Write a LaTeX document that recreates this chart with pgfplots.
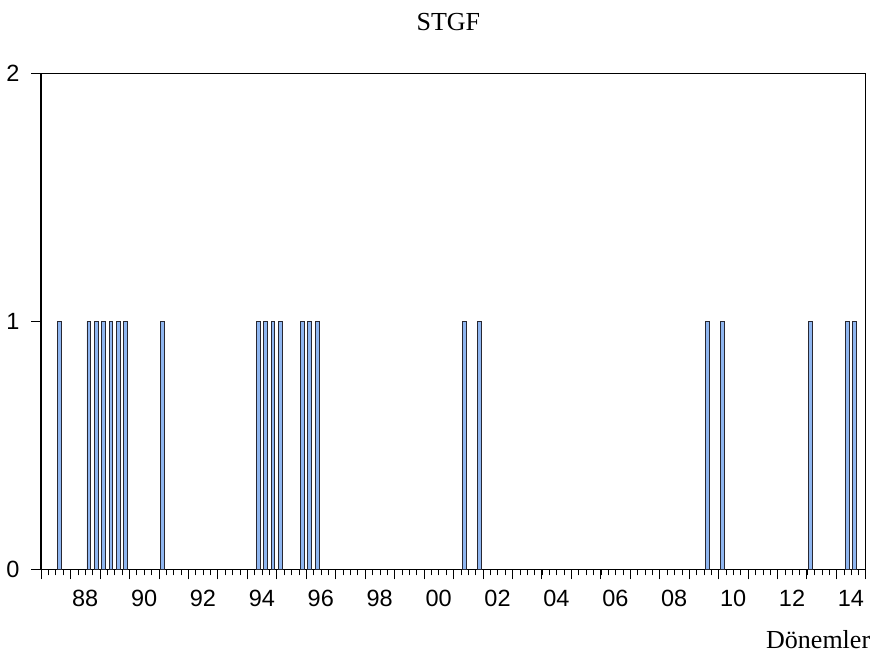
\documentclass[border=0pt]{standalone}
\usepackage{pgfplots}
\pgfplotsset{compat=1.18}
\usepackage{fontspec}
\setmainfont{Liberation Serif}
\setsansfont{Liberation Sans}
\definecolor{barfill}{RGB}{143,182,240}
\definecolor{baredge}{RGB}{40,40,50}
\begin{document}
\begin{tikzpicture}
\path[use as bounding box] (-41pt,-87.7pt) rectangle (838pt,569.3pt);
\begin{axis}[
  at={(0,0)}, anchor=south west,
  scale only axis, width=824.7pt, height=496pt,
  xmin=1987, xmax=2015, ymin=0, ymax=2,
  axis line style={black, line width=1.1pt},
  tick align=outside,
  xtick pos=bottom, ytick pos=left,
  /pgf/number format/assume math mode=true,
  ticklabel style={font=\sffamily\fontsize{23.5}{28}\selectfont, black},
  ytick={0,1,2}, yticklabels={0,1,2},
  ytick style={black, line width=0.6pt},
  major tick length=10pt,
  yticklabel style={xshift=-8pt},
  xtick={1988.5,1990.5,1992.5,1994.5,1996.5,1998.5,2000.5,2002.5,2004.5,2006.5,2008.5,2010.5,2012.5,2014.5},
  xticklabels={88,90,92,94,96,98,00,02,04,06,08,10,12,14},
  xtick style={draw=none},
  xticklabel style={yshift=-7pt},
  extra x ticks={1987,1988,1989,1990,1991,1992,1993,1994,1995,1996,1997,1998,1999,2000,2001,2002,2003,2004,2005,2006,2007,2008,2009,2010,2011,2012,2013,2014,2015},
  extra x tick labels={},
  extra x tick style={xtick style={draw=black, line width=0.6pt}, major tick length=10pt},
  minor xtick={1987,1987.25,...,2015},
  minor tick length=6pt,
  minor x tick style={draw=black, line width=0.6pt},
  title={STGF},
  title style={font=\fontsize{26}{30}\selectfont, at={(rel axis cs:0.5,1)}, anchor=base, yshift=37pt, xshift=-5pt},
  xlabel={Dönemler},
  xlabel style={font=\fontsize{26}{30}\selectfont, at={(rel axis cs:1,0)}, anchor=base east, yshift=-79pt, xshift=8pt},
  ybar, bar width=3.8pt,
]
\addplot[fill=barfill, draw=baredge, line width=0.9pt] table {
x y
1987.625 1
1988.625 1
1988.875 1
1989.125 1
1989.375 1
1989.625 1
1989.875 1
1991.125 1
1994.375 1
1994.625 1
1994.875 1
1995.125 1
1995.875 1
1996.125 1
1996.375 1
2001.375 1
2001.875 1
2009.625 1
2010.125 1
2013.125 1
2014.375 1
2014.625 1
};
\end{axis}
\end{tikzpicture}
\end{document}
